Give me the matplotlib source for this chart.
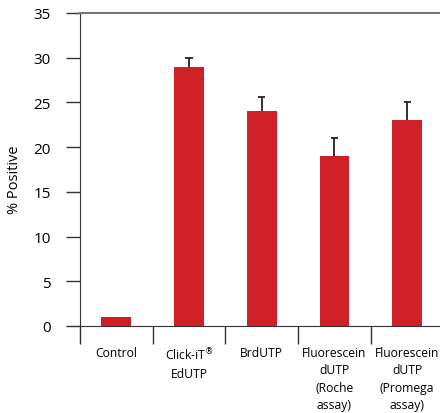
import matplotlib.pyplot as plt
import numpy as np

# Percent positive cells per labeling method
categories = ['Control', 'Click-iT$^{\\circledR}$\nEdUTP', 'BrdUTP',
              'Fluorescein\ndUTP\n(Roche\nassay)', 'Fluorescein\ndUTP\n(Promega\nassay)']
values = [1.0, 29.0, 24.0, 19.0, 23.0]
errors = [0.0, 1.0, 1.6, 2.0, 2.0]
y_ticks = [0, 5, 10, 15, 20, 25, 30, 35]

plt.rcParams['font.family'] = ['Open Sans', 'DejaVu Sans']

fig = plt.figure(figsize=(4.4, 4.14), dpi=100)
fig.patch.set_facecolor('white')
ax = fig.add_axes([80 / 440, 87 / 414, 363.5 / 440, 313 / 414])

x = np.arange(len(categories))
vals = np.array(values)
errs = np.array(errors)
ax.bar(x, vals, width=0.41, color='#cf2027', zorder=2)

# upper-only error bars with a short cap
has_err = errs > 0
ax.vlines(x[has_err], vals[has_err], vals[has_err] + errs[has_err],
          color='#222222', linewidth=1.3, zorder=3)
ax.hlines(vals[has_err] + errs[has_err], x[has_err] - 0.05, x[has_err] + 0.05,
          color='#222222', linewidth=1.3, zorder=3)

ax.set_xlim(-0.5, len(categories) - 0.5)
ax.set_ylim(0, 35)

# y axis
ax.set_yticks(y_ticks)
ax.tick_params(axis='y', direction='out', length=10, width=1, pad=11,
               labelsize=11, color='#333333')
ax.set_ylabel('% Positive', fontsize=10.5)
ax.yaxis.set_label_coords(-0.16, 0.47)

# category dividers drawn as long ticks below the baseline
ax.set_xticks(np.arange(-0.5, len(categories), 1.0))
ax.set_xticklabels([])
ax.tick_params(axis='x', direction='out', length=13, width=1, color='#333333')
for xi, lab in zip(x, categories):
    ax.text(xi, -2.2, lab, ha='center', va='top', fontsize=8.7,
            linespacing=1.45)

ax.spines['right'].set_visible(False)
ax.spines['top'].set_color('#777777')
ax.spines['top'].set_linewidth(1.5)
ax.spines['left'].set_color('#333333')
ax.spines['bottom'].set_color('#333333')

fig.savefig('out.png', dpi=100, facecolor='white')
